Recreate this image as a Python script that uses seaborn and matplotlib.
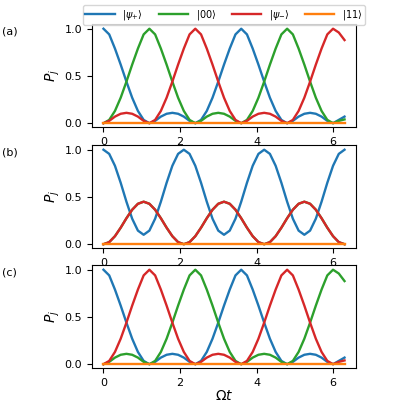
import numpy as np
import pandas as pd
import matplotlib
matplotlib.use("Agg")
import matplotlib.pyplot as plt
import seaborn as sns

# time grid (Omega t), step 0.15
t = [round(0.15 * i, 2) for i in range(43)]

# panel (a) populations
a_psi_plus = [1.0, .94, .79, .62, .44, .27, .13, .035, 0, .025, .07, .10, .11, .10, .07, .025, 0, .035, .13, .27, .44, .62, .79, .94,
              1.0, .94, .79, .62, .44, .27, .13, .035, 0, .025, .07, .10, .11, .10, .07, .025, 0, .035, .07]
a_00 = [0, .035, .13, .27, .44, .62, .79, .94,
        1.0, .94, .79, .62, .44, .27, .13, .035, 0, .025, .07, .10, .11, .10, .07, .025, 0, .035, .13, .27, .44, .62, .79, .94,
        1.0, .94, .79, .62, .44, .27, .13, .035, 0, .025, .04]
a_psi_minus = [0, .025, .07, .10, .11, .10, .07, .025, 0, .035, .13, .27, .44, .62, .79, .94,
               1.0, .94, .79, .62, .44, .27, .13, .035, 0, .025, .07, .10, .11, .10, .07, .025, 0, .035, .13, .27, .44, .62, .79, .94,
               1.0, .96, .88]
a_11 = [0.0] * 43

# panel (b)
b_side = [0, .022, .085, .175, .275, .365, .428, .45, .428, .365, .275, .175, .085, .022] * 3 + [0]
b_psi_plus = [1, .956, .83, .65, .45, .27, .144, .10, .144, .27, .45, .65, .83, .956] * 3 + [1]
b_00 = b_side
b_psi_minus = b_side
b_11 = [0.0] * 43

# panel (c): |00> and |psi-> swap roles
c_psi_plus = a_psi_plus
c_00 = a_psi_minus
c_psi_minus = a_00
c_11 = [0.0] * 43

labels = [r"$|\psi_{+}\rangle$", r"$|00\rangle$", r"$|\psi_{-}\rangle$", r"$|11\rangle$"]
colors = ["#1f77b4", "#2ca02c", "#d62728", "#ff7f0e"]
panels = [("(a)", [a_psi_plus, a_00, a_psi_minus, a_11]),
          ("(b)", [b_psi_plus, b_00, b_psi_minus, b_11]),
          ("(c)", [c_psi_plus, c_00, c_psi_minus, c_11])]

plt.rcParams["font.size"] = 8
fig = plt.figure(figsize=(4, 4), dpi=100)
tops = [0.94, 0.6375, 0.3375]
h = 0.2575
for (tag, series), top in zip(panels, tops):
    ax = fig.add_axes([0.23, top - h, 0.66, h])
    for s, lab, col in zip(series, labels, colors):
        df = pd.DataFrame({"t": t, "p": s})
        sns.lineplot(data=df, x="t", y="p", color=col, lw=1.7, label=lab, ax=ax, legend=False)
    ax.set_ylabel(r"$P_j$", fontsize=10, labelpad=2)
    ax.set_xlabel("")
    ax.set_yticks([0, 0.5, 1.0])
    ax.set_xticks([0, 2, 4, 6])
    ax.set_ylim(-0.04, 1.05)
    ax.set_xlim(-0.3, 6.6)
    ax.text(-0.34, 0.9, tag, transform=ax.transAxes, fontsize=8)
    if tag == "(a)":
        handles, labs = ax.get_legend_handles_labels()
        fig.legend(handles, labs, loc="upper center", ncol=4, bbox_to_anchor=(0.56, 1.0),
                   fontsize=7, handlelength=3, columnspacing=1.6, borderpad=0.3)
ax.set_xlabel(r"$\Omega t$", fontsize=10, labelpad=1)

fig.savefig("out.png", dpi=100)
